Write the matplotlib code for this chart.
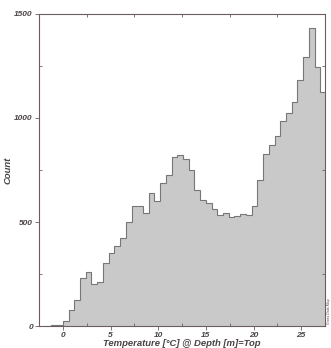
import numpy as np
import matplotlib.pyplot as plt

# Histogram of temperature at top depth
bin_start = -1.8
bin_width = 0.6
counts = [1, 3, 6,
          24, 77, 125, 229, 261, 200, 214, 302, 350, 386,
          423, 501, 576, 576, 544, 638, 602, 688, 725, 814,
          821, 803, 750, 654, 606, 592, 561, 534, 542, 523,
          531, 538, 535, 577, 704, 826, 868, 913, 986, 1026,
          1077, 1181, 1295, 1430, 1245, 1125]
x_ticks = [0, 5, 10, 15, 20, 25]
y_ticks = [0, 500, 1000, 1500]

edges = bin_start + bin_width * np.arange(len(counts) + 1)

plt.rcParams['font.family'] = ['Liberation Sans', 'DejaVu Sans']
txt = '#4a4444'
spine = '#6e5c5c'

fig = plt.figure(figsize=(3.31, 3.48), dpi=100)
ax = fig.add_axes([0.118, 0.063, 0.864, 0.897])

ax.stairs(counts, edges, fill=True, color='#c9c9c9', linewidth=0)
ax.stairs(counts, edges, color='#777777', linewidth=0.8)

ax.set_xlim(-2.5, 27.5)
ax.set_ylim(0, 1500)

ax.set_xticks(x_ticks)
ax.set_xticks(np.arange(-2.5, 27.6, 2.5), minor=True)
ax.set_yticks(y_ticks)
ax.set_yticks(np.arange(0, 1501, 250), minor=True)

ax.tick_params(axis='both', which='major', length=3, width=0.6, color=spine,
               labelsize=6, labelcolor=txt, pad=1.5)
ax.tick_params(axis='both', which='minor', length=2.5, width=0.6, color=spine,
               direction='in', top=True, right=True)
for lab in ax.get_xticklabels() + ax.get_yticklabels():
    lab.set_fontstyle('italic')
    lab.set_fontweight('bold')

for s in ax.spines.values():
    s.set_color(spine)
    s.set_linewidth(0.8)

ax.set_xlabel('Temperature [°C] @ Depth [m]=Top', fontsize=6.8, style='italic',
              fontweight='bold', color=txt, labelpad=0)
ax.set_ylabel('Count', fontsize=6.8, style='italic', fontweight='bold',
              color=txt)
ax.yaxis.set_label_coords(-0.094, 0.5)

fig.text(0.993, 0.07, 'Gross Data Map', rotation=90, fontsize=2.5,
         color=txt, ha='center', va='bottom')

fig.savefig('out.png', dpi=100, facecolor='white')
